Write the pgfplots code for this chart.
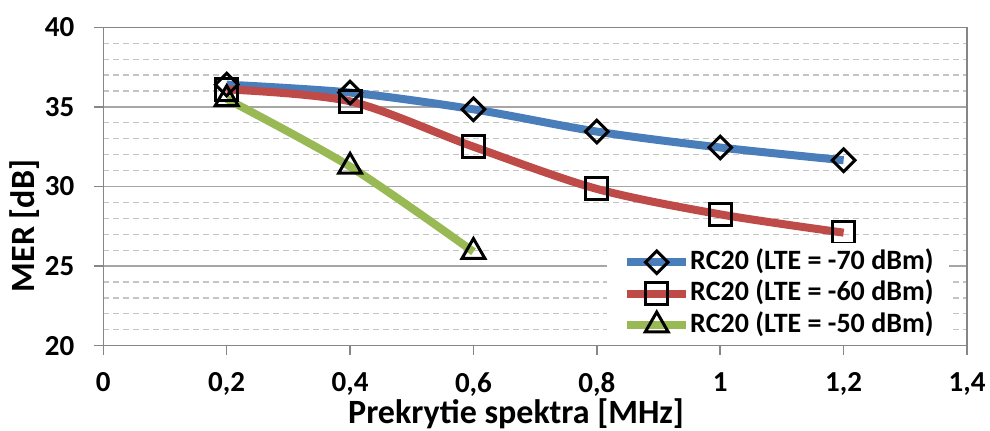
\documentclass[border=0pt]{standalone}
\usepackage{fontspec}
\setmainfont{Carlito}
\usepackage{pgfplots}
\pgfplotsset{compat=1.18}
\definecolor{sblue}{HTML}{4A7EBB}
\definecolor{sred}{HTML}{BE4B48}
\definecolor{sgreen}{HTML}{98B954}
\definecolor{gridmaj}{HTML}{A6A6A6}
\definecolor{gridmin}{HTML}{C4C4C4}
\definecolor{axgray}{HTML}{868686}
\begin{document}
\begin{tikzpicture}
\begin{axis}[
  scale only axis, width=431.85pt, height=159.2pt,
  at={(0pt,0pt)}, anchor=south west,
  xmin=0, xmax=1.4, ymin=20, ymax=40,
  xtick={0,0.2,0.4,0.6,0.8,1,1.2,1.4},
  xticklabels={0,{0,2},{0,4},{0,6},{0,8},1,{1,2},{1,4}},
  ytick={20,25,30,35,40},
  minor y tick num=4,
  ymajorgrids, yminorgrids,
  major grid style={gridmaj, line width=0.75pt},
  minor grid style={gridmin, line width=0.6pt, dash pattern=on 3pt off 2pt},
  axis line style={axgray, line width=0.75pt},
  tick style={axgray, line width=0.75pt},
  tick align=outside, major tick length=4.5pt, minor tick length=0pt,
  xtick pos=bottom, ytick pos=left,
  font=\fontsize{14}{16.8}\selectfont\bfseries,
  ticklabel style={font=\fontsize{14.5}{17}\selectfont\bfseries},
  xticklabel style={yshift=-5.5pt},
  yticklabel style={xshift=-6.5pt},
  /pgf/number format/assume math mode=true,
  xlabel={Prekrytie spektra [MHz]},
  ylabel={MER [dB]},
  label style={font=\fontsize{17}{20}\selectfont\bfseries},
  xlabel style={at={(axis description cs:0.478,-0.2435)}, anchor=base},
  ylabel style={at={(axis description cs:-0.0791,0.376)}, anchor=base},
  legend style={at={(rel axis cs:0.583,0.323)}, anchor=north west, draw=none, fill=white,
    inner xsep=8pt, inner ysep=2.5pt, row sep=1.75pt,
    nodes={inner sep=0pt, text height=10.5pt, text depth=3.5pt},
    font=\fontsize{14}{16.8}\selectfont\bfseries},
  legend cell align=left,
  legend image code/.code={\draw[#1, mark repeat=2, mark phase=2] plot coordinates {(0pt,0pt) (14.75pt,0pt) (29.5pt,0pt)};},
]
\addplot[sblue, line width=4pt, smooth, mark=square, mark size=4pt,
  mark options={solid, rotate=45, draw=black, fill=none, line width=1.5pt}]
  coordinates {(0.2,36.4)(0.4,35.9)(0.6,34.85)(0.8,33.45)(1.0,32.45)(1.2,31.65)};
\addlegendentry{RC20 (LTE = -70 dBm)}
\addplot[sred, line width=4pt, smooth, mark=square, mark size=5.5pt,
  mark options={solid, draw=black, fill=none, line width=1.5pt}]
  coordinates {(0.2,36.1)(0.4,35.35)(0.6,32.5)(0.8,29.85)(1.0,28.25)(1.2,27.1)};
\addlegendentry{RC20 (LTE = -60 dBm)}
\addplot[sgreen, line width=4pt, smooth, mark=triangle, mark size=6.6pt,
  mark options={solid, draw=black, fill=none, line width=1.5pt}]
  coordinates {(0.2,35.5)(0.4,31.25)(0.6,25.9)};
\addlegendentry{RC20 (LTE = -50 dBm)}
\end{axis}
\pgfresetboundingbox
\path (-51.65pt,-42.15pt) rectangle ++(495pt,215pt);
\end{tikzpicture}
\end{document}
